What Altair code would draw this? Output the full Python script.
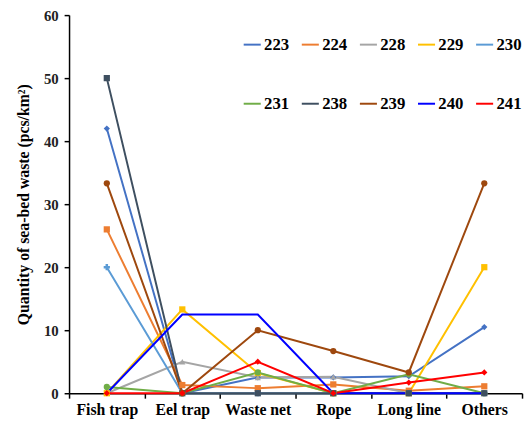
import altair as alt
import pandas as pd

categories = ["Fish trap", "Eel trap", "Waste net", "Rope", "Long line", "Others"]
stations = ["223", "224", "228", "229", "230", "231", "238", "239", "240", "241"]
s223 = [42, 0, 2.5, 2.5, 2.7, 10.5]
s224 = [26, 1.3, 0.8, 1.4, 0.4, 1.1]
s228 = [0, 5, 2.5, 2.6, 0, 0]
s229 = [0, 13.3, 3.2, 0, 0, 20]
s230 = [20, 0, 0, 0, 0, 0]
s231 = [1, 0, 3.3, 0, 3, 0]
s238 = [50, 0, 0, 0, 0, 0]
s239 = [33.3, 0, 10, 6.7, 3.3, 33.3]
s240 = [0, 12.5, 12.5, 0, 0, 0]
s241 = [0, 0, 5, 0, 1.7, 3.3]
series = [s223, s224, s228, s229, s230, s231, s238, s239, s240, s241]

colors = ["#4472C4", "#ED7D31", "#A5A5A5", "#FFC000", "#5B9BD5",
          "#70AD47", "#3E4F60", "#9E480E", "#0000FF", "#FF0000"]
shapes = ["diamond", "square", "triangle-up", "square", "cross",
          "circle", "square", "circle", "circle", "diamond"]
widths = [2, 2, 2, 2, 2, 2, 2, 2.5, 2.5, 2.5]

rows = []
for st, vals in zip(stations, series):
    for c, v in zip(categories, vals):
        rows.append({"Station": st, "Mk": "m" + st, "Gear": c, "Value": v})
df = pd.DataFrame(rows)

font = "'Liberation Serif', 'Times New Roman', serif"

x = alt.X("Gear:N", sort=categories, title=None,
          axis=alt.Axis(labelAngle=0, labelFont=font, labelFontSize=16, labelFontWeight="bold",
                        labelColor="black", labelPadding=4, tickBand="extent", tickSize=5,
                        tickColor="black", domainColor="black", domainWidth=1.5, tickWidth=1.5))
y = alt.Y("Value:Q", title="Quantity of sea-bed waste (pcs/km²)",
          scale=alt.Scale(domain=[0, 60], nice=False),
          axis=alt.Axis(values=[0, 10, 20, 30, 40, 50, 60], grid=False, labelFont=font,
                        labelFontSize=15, labelFontWeight="bold", labelColor="#222",
                        titleFont=font, titleFontSize=16, titleFontWeight="bold",
                        titleColor="black", titlePadding=12, tickColor="black", tickSize=5,
                        domainColor="black", domainWidth=1.5, tickWidth=1.5, labelPadding=6))
color = alt.Color("Station:N", scale=alt.Scale(domain=stations, range=colors),
                  legend=alt.Legend(title=None, orient="none", legendX=176, legendY=20,
                                    columns=5, direction="horizontal", symbolType="stroke",
                                    symbolSize=300, symbolStrokeWidth=2.5, labelFont=font,
                                    labelFontSize=17, labelFontWeight="bold", labelColor="black",
                                    labelOffset=2, columnPadding=8, rowPadding=42))

lines = alt.Chart(df).mark_line().encode(
    x=x, y=y, color=color,
    strokeWidth=alt.StrokeWidth("Station:N", scale=alt.Scale(domain=stations, range=widths), legend=None),
)
mk_domain = ["m" + s for s in stations]
points = alt.Chart(df).transform_filter(alt.datum.Station != "240").mark_point(filled=True, opacity=1).encode(
    x=x, y=y,
    fill=alt.Fill("Mk:N", scale=alt.Scale(domain=mk_domain, range=colors), legend=None),
    shape=alt.Shape("Mk:N", scale=alt.Scale(domain=mk_domain, range=shapes), legend=None),
    size=alt.value(40),
)

chart = alt.layer(lines, points).properties(
    width=460, height=384,
    autosize=alt.AutoSizeParams(type="none"),
    padding={"left": 62, "top": 4, "right": 2, "bottom": 26},
).configure_view(stroke=None)

chart.save("out.html", embed_options={"renderer": "svg", "actions": False})
